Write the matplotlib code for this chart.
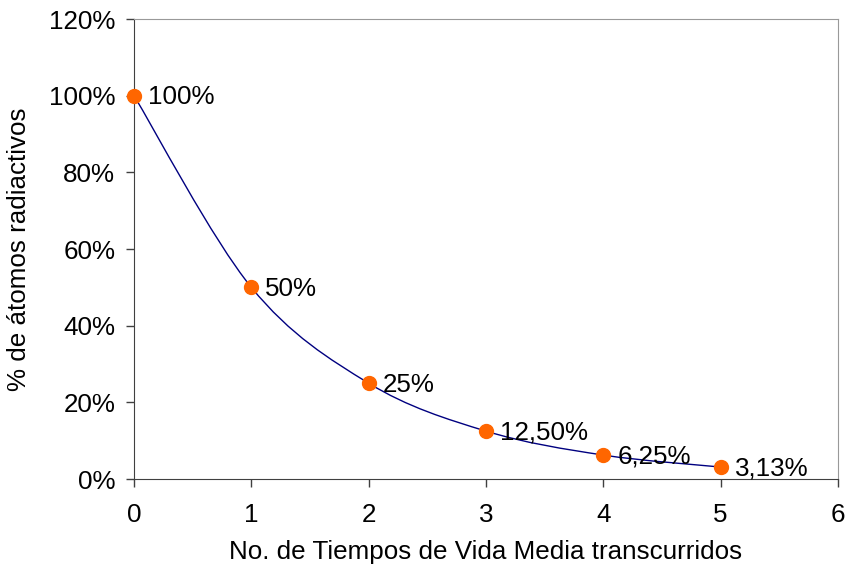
import matplotlib
matplotlib.use("Agg")
import matplotlib.pyplot as plt
from matplotlib.path import Path
from matplotlib.patches import PathPatch
import numpy as np

plt.rcParams['font.family'] = ['Liberation Sans', 'DejaVu Sans']

# data
vidas = [0, 1, 2, 3, 4, 5]
porcentaje = [1.0, 0.5, 0.25, 0.125, 0.0625, 0.03125]
etiquetas = ["100%", "50%", "25%", "12,50%", "6,25%", "3,13%"]
yticks = [0, 0.2, 0.4, 0.6, 0.8, 1.0, 1.2]
ytick_labels = ["0%", "20%", "40%", "60%", "80%", "100%", "120%"]

fig = plt.figure(figsize=(8.46, 5.73), dpi=100)
ax = fig.add_axes([0.1584, 0.164, 0.8321, 0.8028])

# smoothed line (Excel-like: bezier through points, Catmull-Rom control points)
x = np.array(vidas, dtype=float)
y = np.array(porcentaje)
verts = [(x[0], y[0])]
codes = [Path.MOVETO]
n = len(x)
for i in range(n - 1):
    p0 = np.array([x[max(i - 1, 0)], y[max(i - 1, 0)]])
    p1 = np.array([x[i], y[i]])
    p2 = np.array([x[i + 1], y[i + 1]])
    p3 = np.array([x[min(i + 2, n - 1)], y[min(i + 2, n - 1)]])
    c1 = p1 + (p2 - p0) / 6
    c2 = p2 - (p3 - p1) / 6
    verts += [tuple(c1), tuple(c2), tuple(p2)]
    codes += [Path.CURVE4] * 3
ax.add_patch(PathPatch(Path(verts, codes), facecolor='none', edgecolor='#000080', lw=1.0, zorder=2))

ax.plot(vidas, porcentaje, linestyle='none', marker='o', markersize=10,
        color='#FF6600', zorder=3, clip_on=False)

fs = 18.7
for xi, yi, t in zip(vidas, porcentaje, etiquetas):
    ax.annotate(t, (xi, yi), xytext=(10, -1), textcoords='offset points',
                va='center', ha='left', fontsize=fs, color='black')

ax.set_xlim(0, 6)
ax.set_ylim(0, 1.2)
ax.set_xticks(range(0, 7))
ax.set_yticks(yticks)
ax.set_yticklabels(ytick_labels)
ax.tick_params(axis='both', direction='out', length=6, width=1, labelsize=fs, colors='#404040', labelcolor='black')
ax.tick_params(axis='x', pad=11.5)
ax.tick_params(axis='y', pad=7.5)

for s in ['left', 'bottom']:
    ax.spines[s].set_color('#404040')
for s in ['top', 'right']:
    ax.spines[s].set_color('#999999')

ax.set_xlabel("No. de Tiempos de Vida Media transcurridos", fontsize=fs, labelpad=9)
ax.set_ylabel("% de átomos radiactivos", fontsize=fs, labelpad=13)

fig.savefig("out.png", dpi=100)
